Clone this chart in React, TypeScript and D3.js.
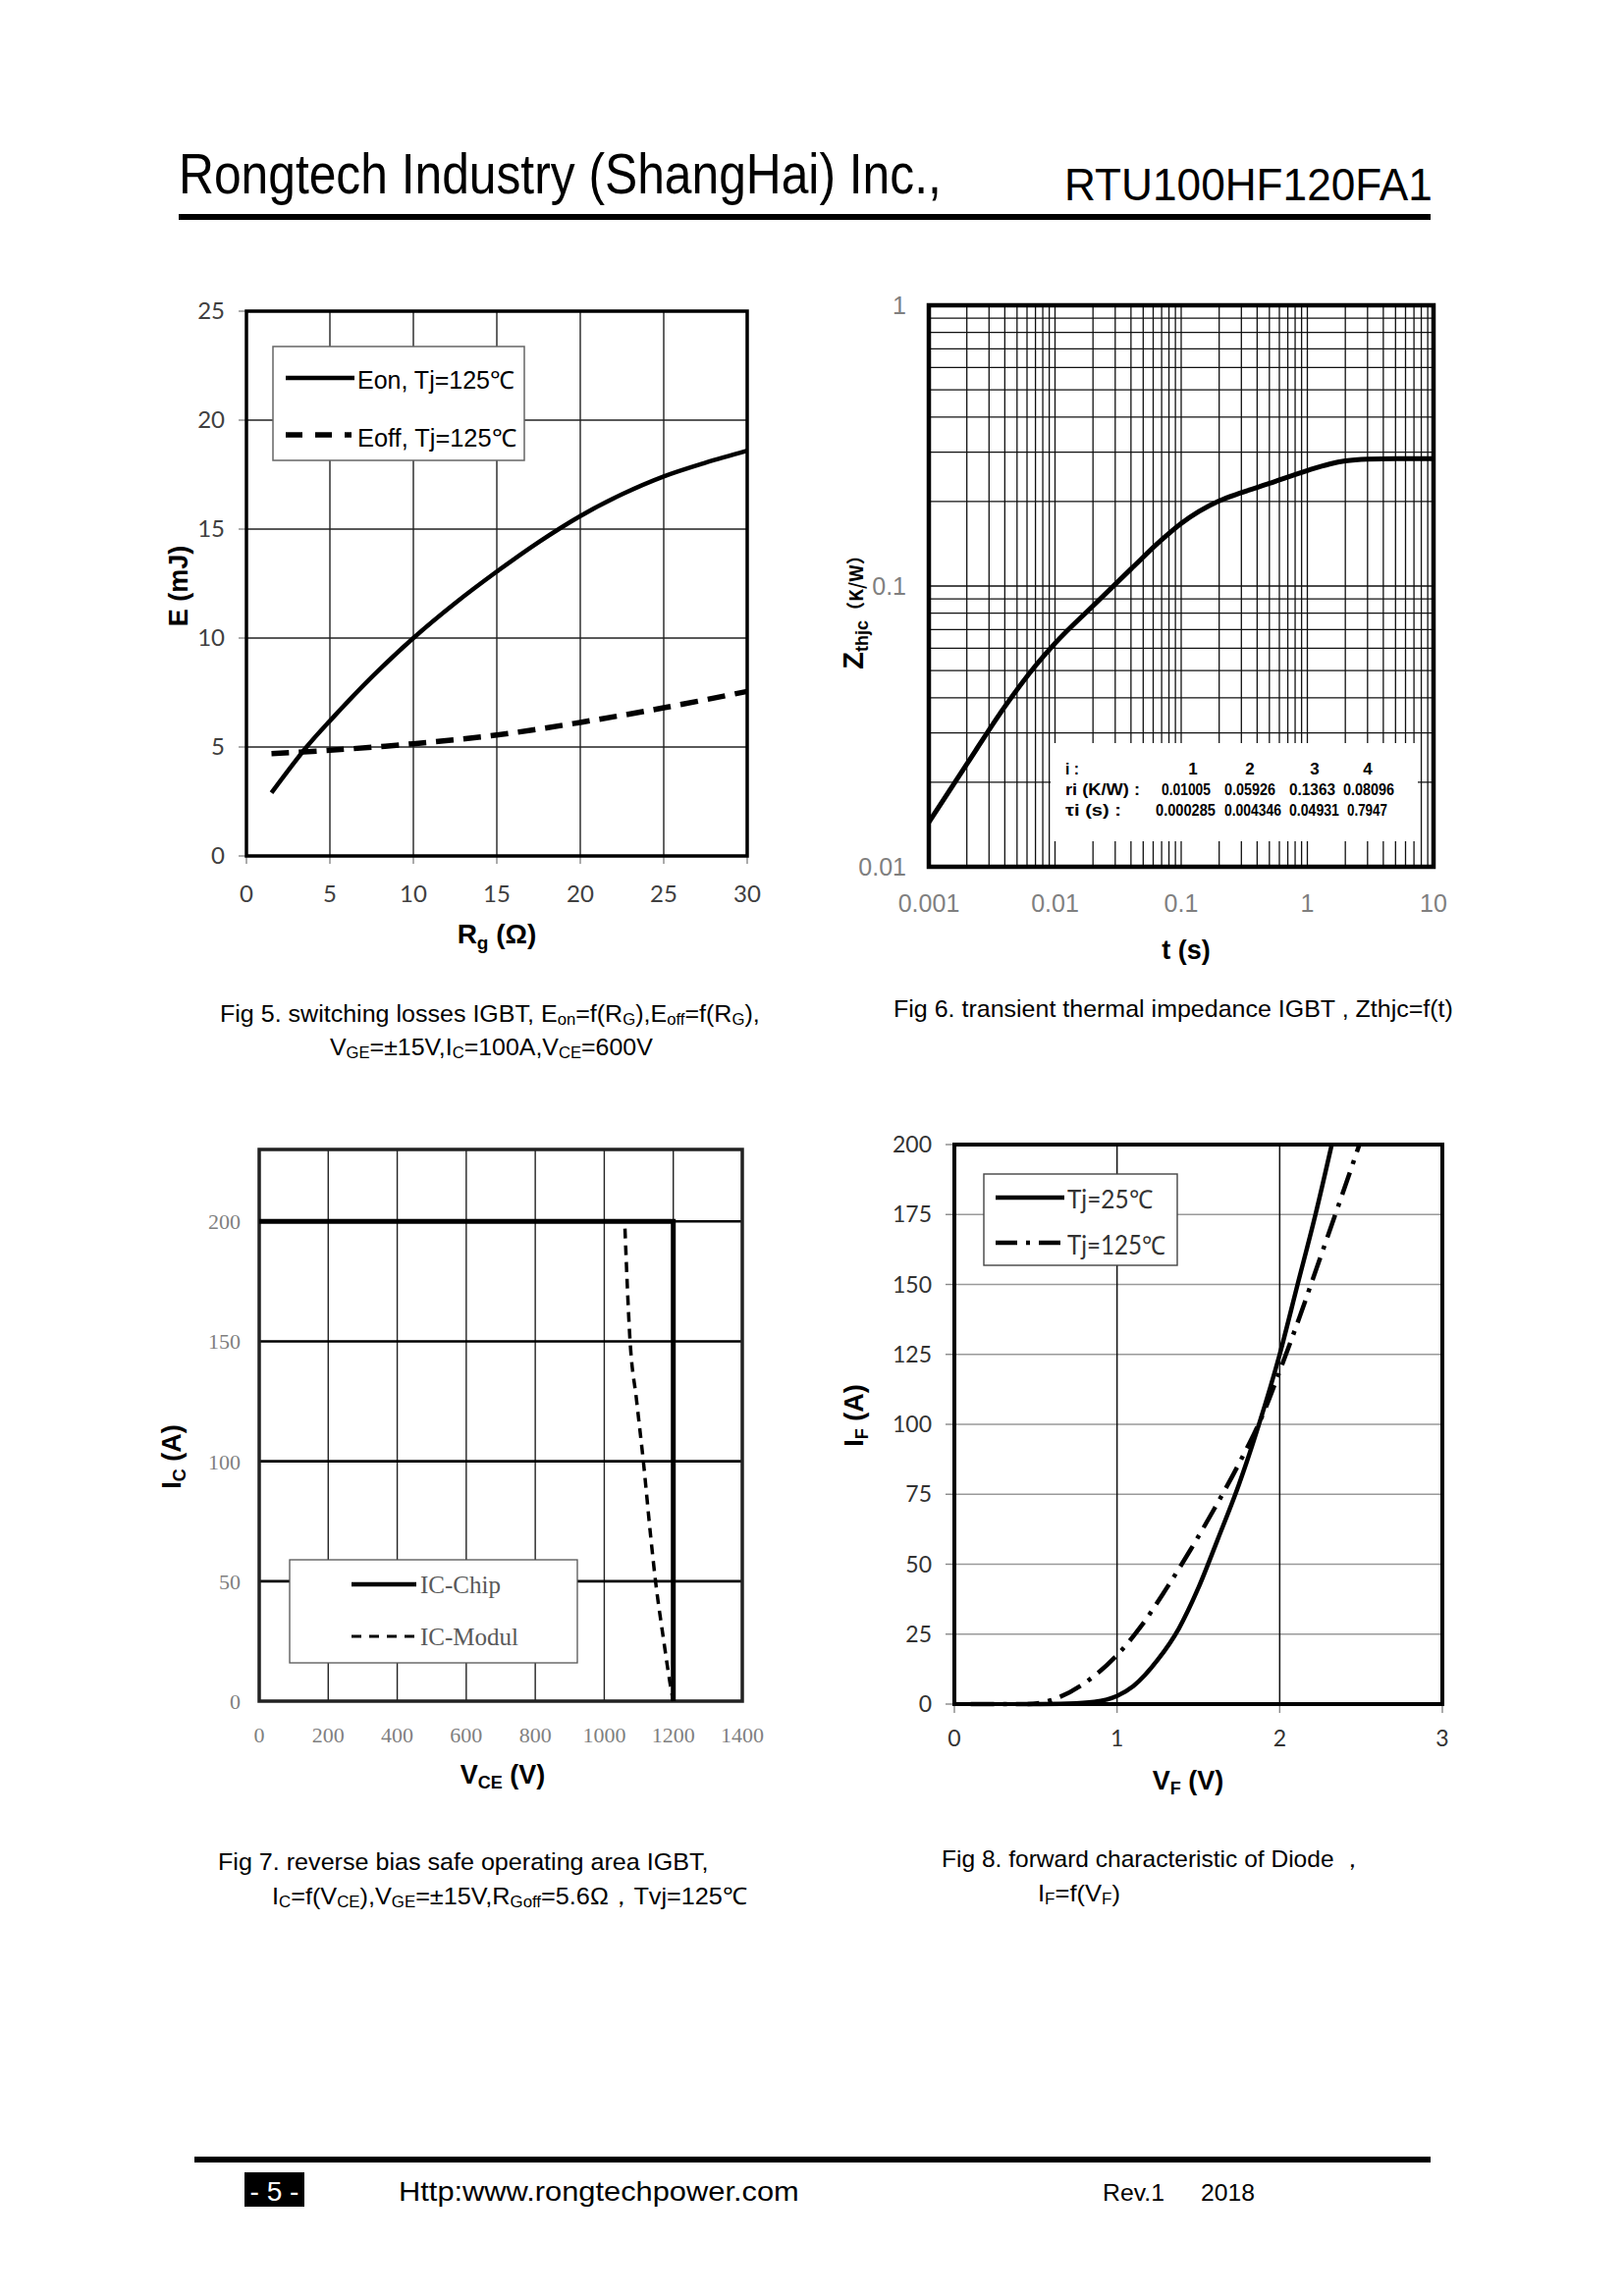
import React, { useRef, useLayoutEffect, useState } from 'react';
import * as d3 from 'd3';

// ---------- Fig 5 data ----------
const fig5RgOn = [1.5, 3.6, 5, 7.5, 10, 12.5, 15, 17.5, 20, 22.5, 25, 27.5, 30];
const fig5Eon = [2.9, 5.0, 6.2, 8.2, 10.0, 11.6, 13.05, 14.4, 15.6, 16.6, 17.42, 18.05, 18.6];
const fig5RgOff = [1.5, 5, 10, 15, 20, 25, 30];
const fig5Eoff = [4.7, 4.85, 5.15, 5.55, 6.13, 6.8, 7.55];
const fig5XTicks = [0, 5, 10, 15, 20, 25, 30];
const fig5YTicks = [0, 5, 10, 15, 20, 25];

// ---------- Fig 6 data ----------
const fig6T = [0.001, 0.002, 0.004, 0.007, 0.01, 0.02, 0.04, 0.07, 0.1, 0.2, 0.3, 0.5, 1.0, 1.5, 2.0, 3.0, 5.0, 10];
const fig6Z = [0.0144, 0.0232, 0.0372, 0.052, 0.0625, 0.085, 0.115, 0.146, 0.167, 0.201, 0.215, 0.232, 0.258, 0.272, 0.279, 0.283, 0.284, 0.284];
const fig6XTicks = [0.001, 0.01, 0.1, 1, 10];
const fig6XLabels = ['0.001', '0.01', '0.1', '1', '10'];
const fig6YTicks = [0.01, 0.1, 1];
const fig6YLabels = ['0.01', '0.1', '1'];
const tableRowLabels = ['i :', 'ri (K/W) :', 'τi (s) :'];
const tableIdx = ['1', '2', '3', '4'];
const tableR = ['0.01005', '0.05926', '0.1363', '0.08096'];
const tableTau = ['0.000285', '0.004346', '0.04931', '0.7947'];

// ---------- Fig 7 data ----------
const fig7ChipV = [0, 1200, 1200];
const fig7ChipI = [200, 200, 0];
const fig7ModV = [1060, 1074, 1094, 1114, 1135, 1149, 1170, 1193, 1200];
const fig7ModI = [197, 152, 125, 99, 68, 49.5, 27.5, 5.5, 0];
const fig7XTicks = [0, 200, 400, 600, 800, 1000, 1200, 1400];
const fig7YTicks = [0, 50, 100, 150, 200];

// ---------- Fig 8 data ----------
const fig8V25 = [0.45, 0.7, 0.86, 1.0, 1.1, 1.25, 1.38, 1.5, 1.62, 1.75, 1.87, 2.0, 2.11, 2.22, 2.32];
const fig8I25 = [0, 0.2, 0.8, 2.9, 6.4, 15.8, 27, 41.5, 59, 78.6, 99.5, 125, 150, 175, 200];
const fig8V125 = [0.1, 0.45, 0.6, 0.8, 1.0, 1.15, 1.3, 1.45, 1.6, 1.75, 1.9, 2.0, 2.12, 2.24, 2.36, 2.49];
const fig8I125 = [0, 0, 1.5, 7.5, 17.5, 28, 41, 55, 70, 86, 104, 119, 138, 158, 178, 200];
const fig8XTicks = [0, 1, 2, 3];
const fig8YTicks = [0, 25, 50, 75, 100, 125, 150, 175, 200];

const SANS = '"Liberation Sans", Arial, sans-serif';
const CAL = 'Lato, "Open Sans", sans-serif';
const SERIF = '"Liberation Serif", "Times New Roman", serif';
const CJK = '"Noto Sans CJK SC", "Liberation Sans", sans-serif';

function FitText({ x, y, width, anchor = 'start', children, ...rest }: any) {
  const ref = useRef<SVGTextElement>(null);
  const [s, setS] = useState(1);
  useLayoutEffect(() => {
    if (ref.current) {
      const w = ref.current.getBBox().width;
      if (w > 0) setS(width / w);
    }
  }, [width]);
  return (
    <g transform={`translate(${x},${y}) scale(${s},1)`}>
      <text ref={ref} x={0} y={0} textAnchor={anchor} {...rest}>
        {children}
      </text>
    </g>
  );
}

function Fig5() {
  const L = 251, R = 761, T = 317, B = 872;
  const x = d3.scaleLinear().domain([0, 30]).range([L, R]);
  const y = d3.scaleLinear().domain([0, 25]).range([B, T]);
  const line = d3.line<number[]>().x(d => x(d[0])).y(d => y(d[1])).curve(d3.curveCatmullRom);
  const on = fig5RgOn.map((r, i) => [r, fig5Eon[i]]);
  const off = fig5RgOff.map((r, i) => [r, fig5Eoff[i]]);
  return (
    <g>
      {fig5XTicks.slice(1, -1).map(t => (
        <line key={'gx' + t} x1={x(t)} x2={x(t)} y1={T} y2={B} stroke="#222" strokeWidth={1.4} />
      ))}
      {fig5YTicks.slice(1, -1).map(t => (
        <line key={'gy' + t} x1={L} x2={R} y1={y(t)} y2={y(t)} stroke="#222" strokeWidth={1.4} />
      ))}
      {fig5YTicks.map(t => (
        <line key={'ty' + t} x1={L - 8} x2={L} y1={y(t)} y2={y(t)} stroke="#888" strokeWidth={1.4} />
      ))}
      {fig5XTicks.map(t => (
        <line key={'tx' + t} x1={x(t)} x2={x(t)} y1={B} y2={B + 8} stroke="#888" strokeWidth={1.4} />
      ))}
      <rect x={L} y={T} width={R - L} height={B - T} fill="none" stroke="#000" strokeWidth={3.5} />
      <path d={line(on) || ''} fill="none" stroke="#000" strokeWidth={4.5} />
      <path d={line(off) || ''} fill="none" stroke="#000" strokeWidth={5.5} strokeDasharray="18,10" />
      {fig5YTicks.map(t => (
        <text key={'ly' + t} x={L - 22} y={y(t) + 8} textAnchor="end" fontFamily={CAL} fontSize={24} fill="#404040">{t}</text>
      ))}
      {fig5XTicks.map(t => (
        <text key={'lx' + t} x={x(t)} y={B + 47} textAnchor="middle" fontFamily={CAL} fontSize={24} fill="#404040">{t}</text>
      ))}
      <text transform={`translate(${191},${597}) rotate(-90)`} textAnchor="middle" fontFamily={SANS} fontWeight="bold" fontSize={27}>E (mJ)</text>
      <text x={506} y={961} textAnchor="middle" fontFamily={SANS} fontWeight="bold" fontSize={28}>
        R<tspan fontSize={19} dy={6}>g</tspan><tspan dy={-6}> (Ω)</tspan>
      </text>
      {/* legend */}
      <rect x={278} y={353} width={256} height={116} fill="#fff" stroke="#666" strokeWidth={1.5} />
      <line x1={291} x2={361} y1={385} y2={385} stroke="#000" strokeWidth={4.5} />
      <FitText x={364} y={396} width={160} fontFamily={SANS} fontSize={25}>Eon, Tj=125℃</FitText>
      <line x1={291} x2={358} y1={443} y2={443} stroke="#000" strokeWidth={5.5} strokeDasharray="17,13" />
      <FitText x={364} y={455} width={162} fontFamily={SANS} fontSize={25}>Eoff, Tj=125℃</FitText>
    </g>
  );
}

function Fig6() {
  const L = 946, R = 1460, T = 311, B = 883;
  const x = d3.scaleLog().domain([0.001, 10]).range([L, R]);
  const y = d3.scaleLog().domain([0.01, 1]).range([B, T]);
  const line = d3.line<number[]>().x(d => x(d[0])).y(d => y(d[1])).curve(d3.curveMonotoneX);
  const pts = fig6T.map((t, i) => [t, fig6Z[i]]);
  const xg = x.ticks();
  const yg = y.ticks();
  const bx = 1070, bw = 374, by = 757, bh = 100;
  const rowY = [789, 810, 831];
  const labW = [14, 76, 57];
  const colC = [1215, 1273, 1339, 1393];
  const rStart = [1183, 1247, 1313, 1368];
  const rW = [50, 52, 47, 52];
  const tStart = [1177, 1247, 1313, 1372];
  const tW = [61, 58, 51, 41];
  return (
    <g>
      {xg.map((t, i) => (
        <line key={'gx' + i} x1={x(t)} x2={x(t)} y1={T} y2={B} stroke="#111" strokeWidth={1.3} />
      ))}
      {yg.map((t, i) => (
        <line key={'gy' + i} x1={L} x2={R} y1={y(t)} y2={y(t)} stroke="#111" strokeWidth={1.3} />
      ))}
      <rect x={bx} y={by} width={bw} height={bh} fill="#fff" />
      <rect x={L} y={T} width={R - L} height={B - T} fill="none" stroke="#000" strokeWidth={4.5} />
      <path d={line(pts) || ''} fill="none" stroke="#000" strokeWidth={5} />
      {fig6YTicks.map((t, i) => (
        <text key={'ly' + i} x={923} y={y(t) + 9} textAnchor="end" fontFamily={SANS} fontSize={25} fill="#7f7f7f">{fig6YLabels[i]}</text>
      ))}
      {fig6XTicks.map((t, i) => (
        <text key={'lx' + i} x={x(t)} y={929} textAnchor="middle" fontFamily={SANS} fontSize={25} fill="#7f7f7f">{fig6XLabels[i]}</text>
      ))}
      <text x={1208} y={977} textAnchor="middle" fontFamily={SANS} fontWeight="bold" fontSize={27}>t (s)</text>
      <text transform={`translate(${879},${619}) rotate(-90)`} textAnchor="middle" fontFamily={SANS} fontWeight="bold" fontSize={29}>
        Z<tspan fontSize={18} dy={5}>thjc</tspan><tspan dy={-5} fontSize={19} fontFamily={CJK}>（K/W）</tspan>
      </text>
      {/* table */}
      {tableRowLabels.map((t, i) => (
        <FitText key={'rl' + i} x={1085} y={rowY[i]} width={labW[i]} fontFamily={SANS} fontWeight="bold" fontSize={17}>{t}</FitText>
      ))}
      {tableIdx.map((t, i) => (
        <text key={'ti' + i} x={colC[i]} y={rowY[0]} textAnchor="middle" fontFamily={SANS} fontWeight="bold" fontSize={17}>{t}</text>
      ))}
      {tableR.map((t, i) => (
        <FitText key={'tr' + i} x={rStart[i]} y={rowY[1]} width={rW[i]} fontFamily={SANS} fontWeight="bold" fontSize={17}>{t}</FitText>
      ))}
      {tableTau.map((t, i) => (
        <FitText key={'tt' + i} x={tStart[i]} y={rowY[2]} width={tW[i]} fontFamily={SANS} fontWeight="bold" fontSize={17}>{t}</FitText>
      ))}
    </g>
  );
}

function Fig7() {
  const L = 264, R = 756, T = 1171, B = 1733;
  const x = d3.scaleLinear().domain([0, 1400]).range([L, R]);
  const y = d3.scaleLinear().domain([0, 230]).range([B, T]);
  const lin = d3.line<number[]>().x(d => x(d[0])).y(d => y(d[1]));
  const curve = d3.line<number[]>().x(d => x(d[0])).y(d => y(d[1])).curve(d3.curveMonotoneX);
  const chip = fig7ChipV.map((v, i) => [v, fig7ChipI[i]]);
  const mod = fig7ModV.map((v, i) => [v, fig7ModI[i]]);
  return (
    <g>
      {fig7XTicks.slice(1, -1).map(t => (
        <line key={'gx' + t} x1={x(t)} x2={x(t)} y1={T} y2={B} stroke="#222" strokeWidth={1.4} />
      ))}
      {fig7YTicks.slice(1).map(t => (
        <line key={'gy' + t} x1={L} x2={R} y1={y(t)} y2={y(t)} stroke="#000" strokeWidth={2.6} />
      ))}
      <rect x={L} y={T} width={R - L} height={B - T} fill="none" stroke="#222" strokeWidth={3.5} />
      <path d={lin(chip) || ''} fill="none" stroke="#000" strokeWidth={5} />
      <path d={curve(mod) || ''} fill="none" stroke="#000" strokeWidth={3.5} strokeDasharray="10,7" />
      {fig7YTicks.map(t => (
        <text key={'ly' + t} x={245} y={y(t) + 8} textAnchor="end" fontFamily={SERIF} fontSize={22} fill="#7f7f7f">{t}</text>
      ))}
      {fig7XTicks.map(t => (
        <text key={'lx' + t} x={x(t)} y={1775} textAnchor="middle" fontFamily={SERIF} fontSize={22} fill="#7f7f7f">{t}</text>
      ))}
      <text transform={`translate(${184},${1484}) rotate(-90)`} textAnchor="middle" fontFamily={SANS} fontWeight="bold" fontSize={27}>
        I<tspan fontSize={18} dy={5}>C</tspan><tspan dy={-5}> (A)</tspan>
      </text>
      <text x={512} y={1817} textAnchor="middle" fontFamily={SANS} fontWeight="bold" fontSize={27}>
        V<tspan fontSize={18} dy={5}>CE</tspan><tspan dy={-5}> (V)</tspan>
      </text>
      {/* legend */}
      <rect x={295} y={1589} width={293} height={105} fill="#fff" stroke="#555" strokeWidth={1.3} />
      <line x1={358} x2={424} y1={1614} y2={1614} stroke="#000" strokeWidth={4.5} />
      <text x={428} y={1623} fontFamily={SERIF} fontSize={25} fill="#595959">IC-Chip</text>
      <line x1={358} x2={424} y1={1667} y2={1667} stroke="#000" strokeWidth={3} strokeDasharray="10,8" />
      <text x={428} y={1676} fontFamily={SERIF} fontSize={25} fill="#595959">IC-Modul</text>
    </g>
  );
}

function Fig8() {
  const L = 972, R = 1469, T = 1166, B = 1736;
  const x = d3.scaleLinear().domain([0, 3]).range([L, R]);
  const y = d3.scaleLinear().domain([0, 200]).range([B, T]);
  const curve = d3.line<number[]>().x(d => x(d[0])).y(d => y(d[1])).curve(d3.curveMonotoneX);
  const a = fig8V25.map((v, i) => [v, fig8I25[i]]);
  const b = fig8V125.map((v, i) => [v, fig8I125[i]]);
  return (
    <g>
      {fig8YTicks.slice(1, -1).map(t => (
        <line key={'gy' + t} x1={L} x2={R} y1={y(t)} y2={y(t)} stroke="#9a9a9a" strokeWidth={1.4} />
      ))}
      {fig8XTicks.slice(1, -1).map(t => (
        <line key={'gx' + t} x1={x(t)} x2={x(t)} y1={T} y2={B} stroke="#111" strokeWidth={1.5} />
      ))}
      {fig8YTicks.map(t => (
        <line key={'ty' + t} x1={L - 9} x2={L} y1={y(t)} y2={y(t)} stroke="#888" strokeWidth={1.4} />
      ))}
      {fig8XTicks.map(t => (
        <line key={'tx' + t} x1={x(t)} x2={x(t)} y1={B} y2={B + 9} stroke="#888" strokeWidth={1.4} />
      ))}
      <rect x={L} y={T} width={R - L} height={B - T} fill="none" stroke="#000" strokeWidth={4} />
      <path d={curve(a) || ''} fill="none" stroke="#000" strokeWidth={4.5} />
      <path d={curve(b) || ''} fill="none" stroke="#000" strokeWidth={4.5} strokeDasharray="24,9,4,9" />
      {fig8YTicks.map(t => (
        <text key={'ly' + t} x={949} y={y(t) + 8} textAnchor="end" fontFamily={CAL} fontSize={23} fill="#333">{t}</text>
      ))}
      {fig8XTicks.map(t => (
        <text key={'lx' + t} x={x(t)} y={1779} textAnchor="middle" fontFamily={CAL} fontSize={23} fill="#333">{t}</text>
      ))}
      <text transform={`translate(${879},${1442}) rotate(-90)`} textAnchor="middle" fontFamily={SANS} fontWeight="bold" fontSize={27}>
        I<tspan fontSize={18} dy={5}>F</tspan><tspan dy={-5}> (A)</tspan>
      </text>
      <text x={1210} y={1823} textAnchor="middle" fontFamily={SANS} fontWeight="bold" fontSize={27}>
        V<tspan fontSize={18} dy={5}>F</tspan><tspan dy={-5}> (V)</tspan>
      </text>
      {/* legend */}
      <rect x={1002} y={1196} width={197} height={93} fill="#fff" stroke="#444" strokeWidth={1.4} />
      <line x1={1014} x2={1084} y1={1220} y2={1220} stroke="#000" strokeWidth={4.5} />
      <FitText x={1087} y={1231} width={87} fontFamily={CAL} fontSize={26} fill="#333">Tj=25℃</FitText>
      <line x1={1014} x2={1084} y1={1266} y2={1266} stroke="#000" strokeWidth={4.5} strokeDasharray="22,9,4,9" />
      <FitText x={1087} y={1278} width={100} fontFamily={CAL} fontSize={26} fill="#333">Tj=125℃</FitText>
    </g>
  );
}

export default function App() {
  return (
    <svg width={1654} height={2339} style={{ position: 'absolute', left: 0, top: 0, background: '#fff' }}>
      <rect x={0} y={0} width={1654} height={2339} fill="#fff" />
      {/* header */}
      <FitText x={182} y={197} width={777} fontFamily={SANS} fontSize={58}>Rongtech Industry (ShangHai) Inc.,</FitText>
      <FitText x={1084} y={204} width={375} fontFamily={SANS} fontSize={46}>RTU100HF120FA1</FitText>
      <rect x={182} y={218} width={1275} height={6} fill="#000" />

      <Fig5 />
      <Fig6 />
      <Fig7 />
      <Fig8 />

      {/* captions */}
      <FitText x={224} y={1041} width={550} fontFamily={SANS} fontSize={24}>
        Fig 5. switching losses IGBT, E<tspan fontSize={16} dy={3}>on</tspan><tspan dy={-3}>=f(R</tspan><tspan fontSize={16} dy={3}>G</tspan><tspan dy={-3}>),E</tspan><tspan fontSize={16} dy={3}>off</tspan><tspan dy={-3}>=f(R</tspan><tspan fontSize={16} dy={3}>G</tspan><tspan dy={-3}>),</tspan>
      </FitText>
      <FitText x={336} y={1075} width={329} fontFamily={SANS} fontSize={24}>
        V<tspan fontSize={16} dy={3}>GE</tspan><tspan dy={-3}>=±15V,I</tspan><tspan fontSize={16} dy={3}>C</tspan><tspan dy={-3}>=100A,V</tspan><tspan fontSize={16} dy={3}>CE</tspan><tspan dy={-3}>=600V</tspan>
      </FitText>
      <FitText x={910} y={1036} width={570} fontFamily={SANS} fontSize={24}>Fig 6. transient thermal impedance IGBT , Zthjc=f(t)</FitText>
      <FitText x={222} y={1905} width={500} fontFamily={SANS} fontSize={24}>Fig 7. reverse bias safe operating area IGBT,</FitText>
      <FitText x={277} y={1940} width={484} fontFamily={SANS} fontSize={24}>
        I<tspan fontSize={16} dy={3}>C</tspan><tspan dy={-3}>=f(V</tspan><tspan fontSize={16} dy={3}>CE</tspan><tspan dy={-3}>),V</tspan><tspan fontSize={16} dy={3}>GE</tspan><tspan dy={-3}>=±15V,R</tspan><tspan fontSize={16} dy={3}>Goff</tspan><tspan dy={-3}>=5.6Ω，Tvj=125℃</tspan>
      </FitText>
      <FitText x={959} y={1902} width={431} fontFamily={SANS} fontSize={24}>Fig 8. forward characteristic of  Diode ，</FitText>
      <FitText x={1057} y={1937} width={84} fontFamily={SANS} fontSize={24}>
        I<tspan fontSize={16} dy={3}>F</tspan><tspan dy={-3}>=f(V</tspan><tspan fontSize={16} dy={3}>F</tspan><tspan dy={-3}>)</tspan>
      </FitText>

      {/* footer */}
      <rect x={198} y={2197} width={1259} height={6} fill="#000" />
      <rect x={249} y={2213} width={61} height={35} fill="#000" />
      <FitText x={279.5} y={2242} width={50} anchor="middle" fontFamily={SANS} fontSize={28} fill="#fff">- 5 -</FitText>
      <FitText x={406} y={2242} width={408} fontFamily={SANS} fontSize={28}>Http:www.rongtechpower.com</FitText>
      <FitText x={1123} y={2242} width={63} fontFamily={SANS} fontSize={24}>Rev.1</FitText>
      <FitText x={1223} y={2242} width={55} fontFamily={SANS} fontSize={24}>2018</FitText>
    </svg>
  );
}
